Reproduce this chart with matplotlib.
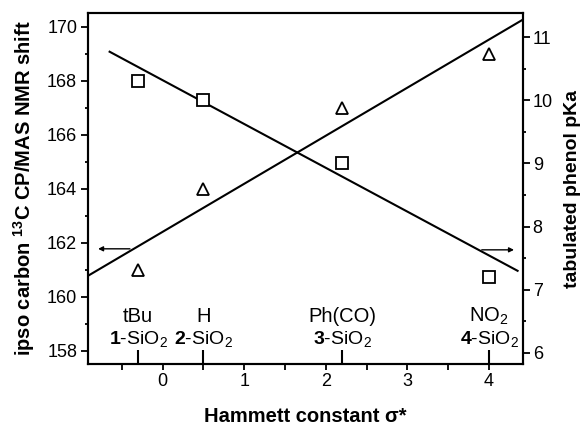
import numpy as np
import matplotlib
matplotlib.use("Agg")
import matplotlib.pyplot as plt
from matplotlib.ticker import MultipleLocator
from matplotlib.transforms import blended_transform_factory

plt.rcParams['font.family'] = ['Liberation Sans', 'DejaVu Sans']
plt.rcParams['mathtext.fontset'] = 'custom'
plt.rcParams['mathtext.rm'] = 'Liberation Sans'
plt.rcParams['mathtext.bf'] = 'Liberation Sans:bold'
plt.rcParams['mathtext.it'] = 'Liberation Sans:italic'

# Data
sigma = [-0.3, 0.5, 2.2, 4.0]
nmr_shift = [161.0, 164.0, 167.0, 169.0]       # triangles, left axis
phenol_pka = [10.3, 10.0, 9.0, 7.2]            # squares, right axis
substituents = ['tBu', 'H', 'Ph(CO)', 'NO$_2$']
compound_ids = ['1', '2', '3', '4']
# pKa correlation line as drawn in the figure (slope, intercept)
pka_line = [-0.695, 10.32]

fig = plt.figure(figsize=(5.82, 4.26), dpi=100)
ax = fig.add_axes([0.1517, 0.1455, 0.8986 - 0.1517, 0.9688 - 0.1455])
ax2 = ax.twinx()

ax.set_xlim(-0.91, 4.415)
ax.set_ylim(157.5, 170.5)
ax2.set_ylim(5.82, 11.38)

# correlation lines
p1 = np.polyfit(sigma, nmr_shift, 1)
xl1 = np.array([-0.91, 4.415])
xl2 = np.array([-0.66, 4.36])
ax.plot(xl1, np.polyval(p1, xl1), color='k', lw=1.5, solid_capstyle='butt')
ax2.plot(xl2, np.polyval(pka_line, xl2), color='k', lw=1.5, solid_capstyle='butt')

ax.plot(sigma, nmr_shift, linestyle='none', marker='^', ms=8.5, mfc='white',
        mec='k', mew=1.3, zorder=5)
ax2.plot(sigma, phenol_pka, linestyle='none', marker='s', ms=8, mfc='white',
         mec='k', mew=1.3, zorder=5)

# arrows
ax.annotate('', xy=(-0.79, 161.77), xytext=(-0.40, 161.77),
            arrowprops=dict(arrowstyle='-|>', lw=1, color='k', mutation_scale=7,
                            shrinkA=0, shrinkB=0))
ax2.annotate('', xy=(4.305, 7.63), xytext=(3.91, 7.63),
             arrowprops=dict(arrowstyle='-|>', lw=1, color='k', mutation_scale=7,
                             shrinkA=0, shrinkB=0))

# compound markers
trans = blended_transform_factory(ax.transData, ax.transAxes)
for xs, sub, cid in zip(sigma, substituents, compound_ids):
    ax.plot([xs, xs], [0, 0.04], transform=trans, color='k', lw=1.5,
            solid_capstyle='butt', clip_on=False)
    ax.text(xs, 0.057, r'$\mathbf{' + cid + r'}$-SiO$_2$', transform=trans,
            ha='center', va='baseline', fontsize=14)
    ax.text(xs, 0.121, sub, transform=trans, ha='center', va='baseline', fontsize=14.5)

for a in (ax, ax2):
    for s in a.spines.values():
        s.set_linewidth(1.5)

ax.xaxis.set_major_locator(MultipleLocator(1))
ax.xaxis.set_minor_locator(MultipleLocator(0.5))
ax.yaxis.set_major_locator(MultipleLocator(2))
ax.yaxis.set_minor_locator(MultipleLocator(1))
ax2.yaxis.set_major_locator(MultipleLocator(1))
ax2.yaxis.set_minor_locator(MultipleLocator(0.5))

ax.tick_params(axis='x', which='both', direction='out', length=4.5, width=1.3,
               labelsize=13, pad=2)
ax.tick_params(axis='y', which='major', direction='out', length=5, width=1.3,
               labelsize=13, pad=3)
ax.tick_params(axis='y', which='minor', direction='out', length=2.5, width=1.3)
ax2.tick_params(axis='y', which='major', direction='out', length=5, width=1.3,
                labelsize=13, pad=2)
ax2.tick_params(axis='y', which='minor', direction='out', length=2.5, width=1.3)

ax.set_xlabel('Hammett constant σ*', fontsize=14.5, fontweight='bold', labelpad=12)
ax.set_ylabel(r'ipso carbon $^{\mathbf{13}}$C CP/MAS NMR shift', fontsize=14.5,
              fontweight='bold', labelpad=7)
ax2.set_ylabel('tabulated phenol pKa', fontsize=14, fontweight='bold', labelpad=8)

fig.savefig('out.png', dpi=100)
